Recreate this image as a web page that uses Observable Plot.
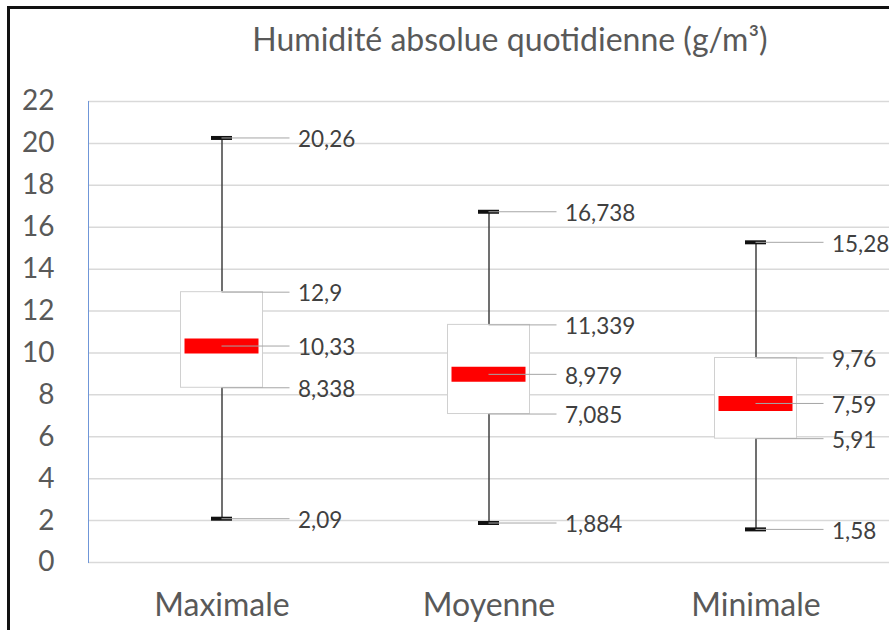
<!DOCTYPE html>
<html>
<head>
<meta charset="utf-8">
<script src="https://cdn.jsdelivr.net/npm/d3@7"></script>
<script src="https://cdn.jsdelivr.net/npm/@observablehq/plot@0.6"></script>
<style>
  html, body { margin: 0; padding: 0; background: #fff; width: 889px; height: 630px; overflow: hidden; }
  #wrap { position: relative; width: 889px; height: 630px; }
  #border { position: absolute; left: 7px; top: 6px; width: 1000px; height: 800px;
            border-left: 3px solid #111; border-top: 3px solid #111; z-index: 5; pointer-events: none; }
  #title { position: relative; height: 70px; }
  #title span { position: absolute; left: 510px; top: 23px; transform: translateX(-50%);
                font-family: Lato, sans-serif; font-size: 32px; line-height: 32px; color: #595959; white-space: nowrap; }
  #chart svg { display: block; }
</style>
</head>
<body>
<div id="wrap">
  <div id="border"></div>
  <div id="title"><span>Humidité absolue quotidienne (g/m³)</span></div>
  <div id="chart"></div>
</div>
<script>
const categories = ["Maximale", "Moyenne", "Minimale"];
const minimum = [2.09, 1.884, 1.58];
const q1 = [8.338, 7.085, 5.91];
const median = [10.33, 8.979, 7.59];
const q3 = [12.9, 11.339, 9.76];
const maximum = [20.26, 16.738, 15.28];
const yTicks = [0, 2, 4, 6, 8, 10, 12, 14, 16, 18, 20, 22];

const rows = categories.map((cat, i) => ({
  cat, min: minimum[i], q1: q1[i], median: median[i], q3: q3[i], max: maximum[i]
}));
const labels = rows.flatMap(r => ["max", "q3", "median", "q1", "min"].map(k => ({cat: r.cat, value: r[k]})));
const fmt = v => String(v).replace(".", ",");

const chart = Plot.plot({
  width: 889,
  height: 560,
  marginLeft: 88,
  marginRight: 0,
  marginTop: 31,
  marginBottom: 68,
  style: {fontFamily: "Lato, sans-serif", background: "transparent", overflow: "visible"},
  x: {domain: categories, padding: 0},
  y: {domain: [0, 22]},
  marks: [
    Plot.ruleY(yTicks, {stroke: "#d9d9d9", strokeWidth: 1.5}),
    Plot.frame({anchor: "left", stroke: "#6f96d8", strokeWidth: 1}),
    Plot.ruleX(rows, {x: "cat", y1: "min", y2: "q1", stroke: "#404040", strokeWidth: 1.5}),
    Plot.ruleX(rows, {x: "cat", y1: "q3", y2: "max", stroke: "#404040", strokeWidth: 1.5}),
    Plot.barY(rows, {x: "cat", y1: "q1", y2: "q3", fill: "white", stroke: "#d0d0d0", strokeWidth: 1, insetLeft: 92.5, insetRight: 92.5}),
    Plot.tickY(rows, {x: "cat", y: "median", stroke: "#ff0000", strokeWidth: 15, insetLeft: 96.5, insetRight: 96.5}),
    Plot.tickY(rows, {x: "cat", y: "min", stroke: "#111", strokeWidth: 4, insetLeft: 123, insetRight: 123}),
    Plot.tickY(rows, {x: "cat", y: "max", stroke: "#111", strokeWidth: 4, insetLeft: 123, insetRight: 123}),
    Plot.tickY(labels, {x: "cat", y: "value", stroke: "#a6a6a6", strokeWidth: 1, insetLeft: 133.5, insetRight: 65.5}),
    Plot.text(labels, {x: "cat", y: "value", text: d => fmt(d.value), textAnchor: "start", dx: 76, dy: 2, fill: "#404040", fontSize: 22.5}),
    Plot.axisY({ticks: yTicks, tickSize: 0, tickPadding: 34, fontSize: 28, fill: "#595959"}),
    Plot.axisX({tickSize: 0, tickPadding: 31, fontSize: 32, fill: "#595959", label: null}),
  ]
});
document.getElementById("chart").appendChild(chart);
</script>
</body>
</html>
